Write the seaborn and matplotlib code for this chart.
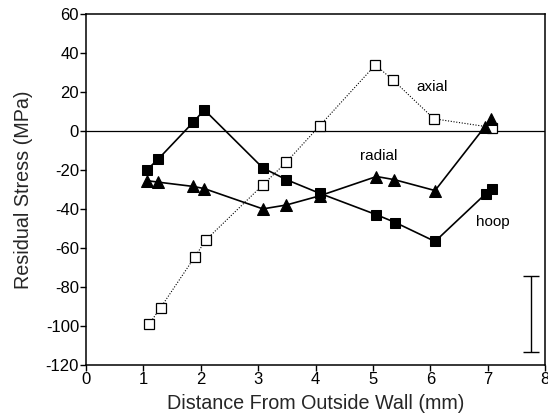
import matplotlib
matplotlib.use("Agg")
import matplotlib.pyplot as plt
import seaborn as sns
import pandas as pd

sns.set_style("ticks")
plt.rcParams['font.family'] = ['Liberation Sans', 'DejaVu Sans']
plt.rcParams['axes.unicode_minus'] = False

hoop_x = [1.06, 1.26, 1.87, 2.06, 3.08, 3.49, 4.07, 5.06, 5.39, 6.08, 6.96, 7.07]
hoop_y = [-20, -14.4, 4.5, 10.8, -19, -25, -32, -43, -47, -56.7, -32.3, -30]

radial_x = [1.06, 1.26, 1.87, 2.06, 3.08, 3.49, 4.07, 5.06, 5.37, 6.08, 6.95, 7.05]
radial_y = [-25.5, -26.3, -28.5, -29.6, -40, -38, -33.3, -23.4, -25, -30.6, 2.2, 6]

axial_x = [1.1, 1.30, 1.89, 2.09, 3.08, 3.49, 4.07, 5.04, 5.35, 6.06, 7.08]
axial_y = [-99, -90.6, -64.8, -55.9, -27.7, -16, 2.6, 33.8, 26, 6.2, 1.7]

err_x = [7.75]
err_y = [-94]
err_half = [19.6]

labels = ["axial", "radial", "hoop"]
label_x = [6.03, 5.09, 7.08]
label_y = [22.4, -13, -46.5]

x_ticks = [0, 1, 2, 3, 4, 5, 6, 7, 8]
y_ticks = [60, 40, 20, 0, -20, -40, -60, -80, -100, -120]

fig = plt.figure(figsize=(5.48, 4.19), dpi=100)
ax = fig.add_axes([0.157, 0.129, 0.838, 0.838])

ax.axhline(0, color="black", lw=0.9, zorder=1)

sns.lineplot(x=axial_x, y=axial_y, ax=ax, color="black", lw=0.8, linestyle=(0, (1, 1.5)),
             marker="s", markersize=6.5, markerfacecolor="white", markeredgecolor="black",
             markeredgewidth=0.9, sort=False, estimator=None, zorder=3)
sns.lineplot(x=radial_x, y=radial_y, ax=ax, color="black", lw=1.2,
             marker="^", markersize=8.5, markerfacecolor="black", markeredgecolor="black",
             sort=False, estimator=None, zorder=3)
sns.lineplot(x=hoop_x, y=hoop_y, ax=ax, color="black", lw=1.2,
             marker="s", markersize=6.5, markerfacecolor="black", markeredgecolor="black",
             sort=False, estimator=None, zorder=4)

ax.errorbar(err_x, err_y, yerr=err_half, fmt="none", ecolor="black", elinewidth=1.0,
            capsize=6, capthick=1.0)

for t, lx, ly in zip(labels, label_x, label_y):
    ax.text(lx, ly, t, fontsize=11, ha="center", va="center", color="black")

ax.set_xlim(0, 8)
ax.set_ylim(-120, 60)
ax.set_xticks(x_ticks)
ax.set_yticks(y_ticks)
ax.tick_params(direction="out", length=4, width=1, labelsize=12, colors="black", pad=1)
for s in ax.spines.values():
    s.set_visible(True)
    s.set_color("black")
    s.set_linewidth(1.1)

ax.set_xlabel("Distance From Outside Wall (mm)", fontsize=14.2, labelpad=5)
ax.set_ylabel("Residual Stress (MPa)", fontsize=14.2, labelpad=9)

fig.savefig("out.png", dpi=100)
